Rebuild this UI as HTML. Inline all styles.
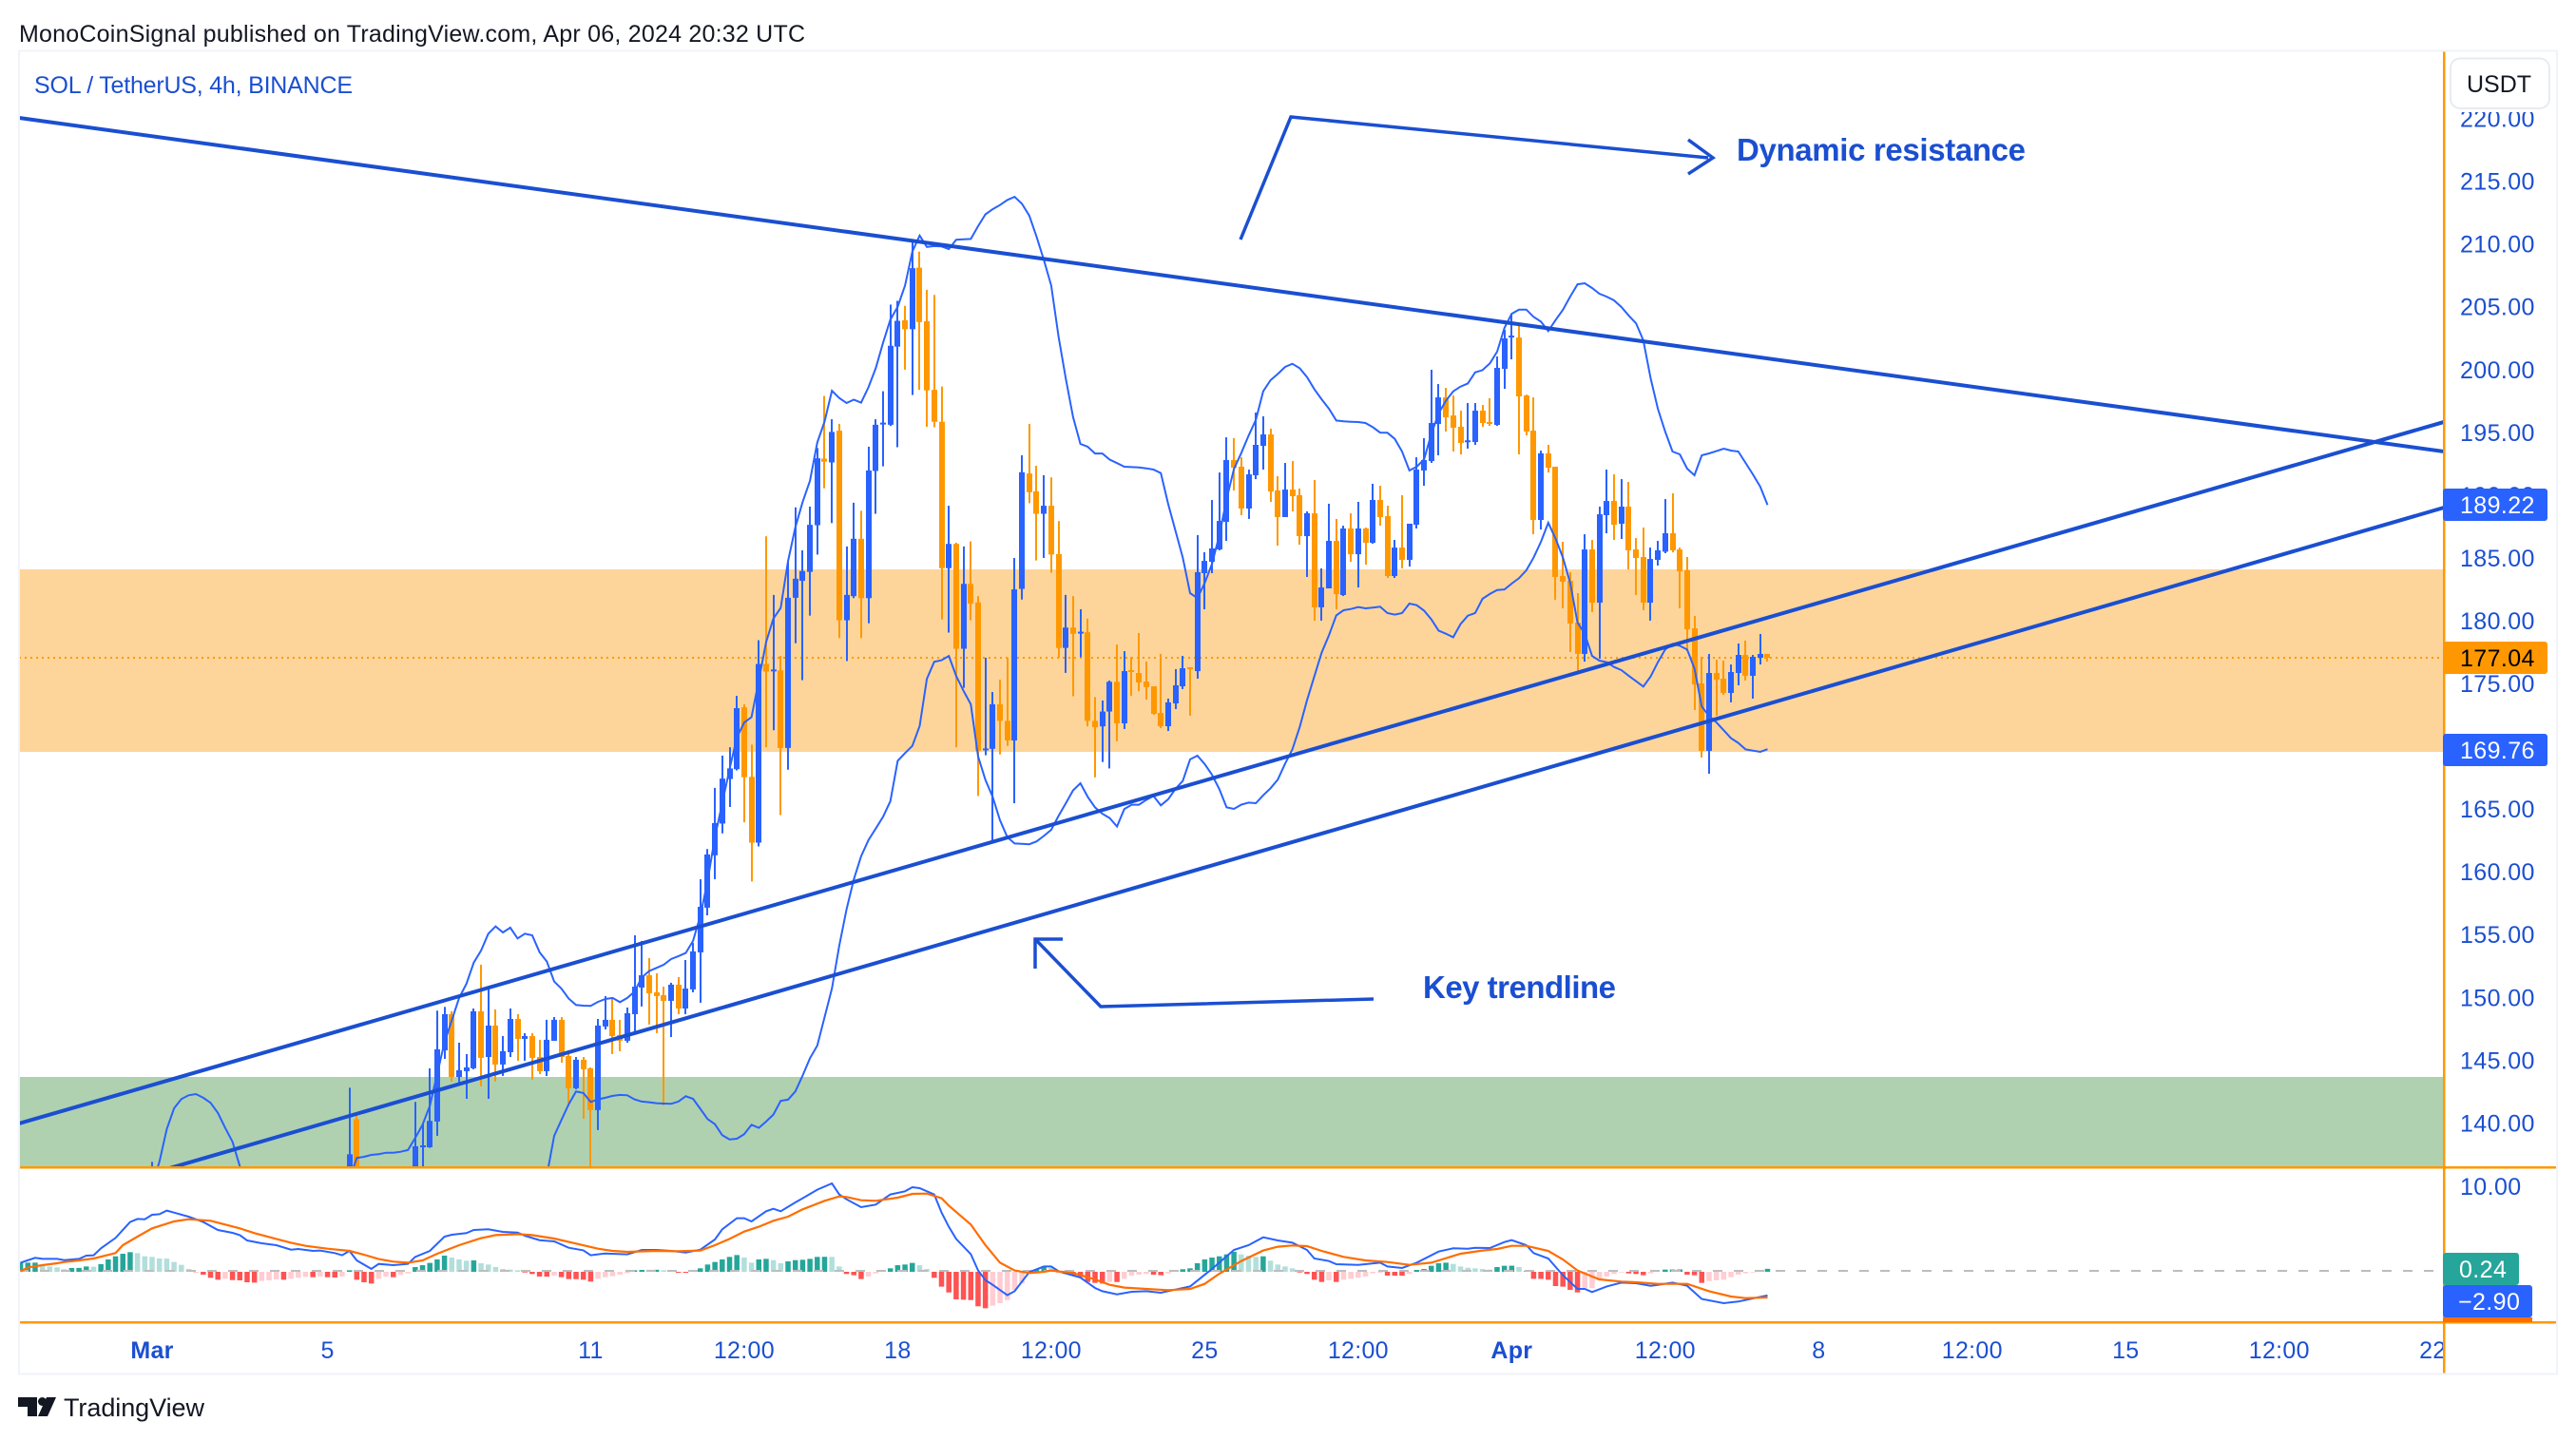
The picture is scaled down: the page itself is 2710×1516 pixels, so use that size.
<!DOCTYPE html>
<html lang="en">
<head>
<meta charset="utf-8">
<title>SOL / TetherUS 4h chart</title>
<style>
html,body{margin:0;padding:0;background:#fff;width:2710px;height:1516px;overflow:hidden}
svg{display:block}
text{font-family:"Liberation Sans",sans-serif}
</style>
</head>
<body>
<svg id="chart" xmlns="http://www.w3.org/2000/svg" width="2710" height="1516" viewBox="0 0 2710 1516">
  <defs>
    <clipPath id="mainClip"><rect x="20" y="55" width="2550" height="1172"/></clipPath>
    <clipPath id="macdClip"><rect x="20" y="1229" width="2550" height="161"/></clipPath>
    <clipPath id="timeClip"><rect x="20" y="1392" width="2550" height="54"/></clipPath>
  </defs>
  <rect x="0" y="0" width="2710" height="1516" fill="#ffffff"/>
  <text x="20" y="44" font-size="25" fill="#131722" textLength="827" lengthAdjust="spacing">MonoCoinSignal published on TradingView.com, Apr 06, 2024 20:32 UTC</text>

  <g clip-path="url(#mainClip)">
    <rect x="20" y="599" width="2550" height="192" fill="#fdd59a"/>
    <rect x="20" y="1133" width="2550" height="95" fill="#afd1b0"/>
    <g id="priceLine"></g>
    <g id="candles"></g>
    <g id="bands"></g>
    <g id="trends"></g>
  </g>

  <g>
    <polyline points="1305,252 1358,123 1797,166" fill="none" stroke="#1b4fd1" stroke-width="3.5"/>
    <polyline points="1776,147 1802,166 1776,183" fill="none" stroke="#1b4fd1" stroke-width="3.5"/>
    <text x="1827" y="169" font-size="33" font-weight="bold" fill="#1b4fd1" textLength="304" lengthAdjust="spacing">Dynamic resistance</text>
  </g>
  <g>
    <polyline points="1445,1051 1158,1059 1089,988" fill="none" stroke="#1b4fd1" stroke-width="3.5"/>
    <polyline points="1089,1019 1089,988 1118,988" fill="none" stroke="#1b4fd1" stroke-width="3.5"/>
    <text x="1497" y="1050" font-size="33" font-weight="bold" fill="#1b4fd1" textLength="203" lengthAdjust="spacing">Key trendline</text>
  </g>

  <text x="36" y="98" font-size="25" fill="#1b4fd1" textLength="335" lengthAdjust="spacing">SOL / TetherUS, 4h, BINANCE</text>

  <g clip-path="url(#macdClip)">
    <g id="histogram"></g>
    <line x1="20" y1="1337" x2="2560" y2="1337" stroke="#bdbdbd" stroke-width="2" stroke-dasharray="10 12"/>
    <g id="macdLines"></g>
  </g>

  <g id="timeAxis" clip-path="url(#timeClip)"></g>
  <g id="priceAxis"></g>

  <rect x="20" y="1227" width="2670" height="2.5" fill="#ff9800"/>
  <rect x="20" y="1390" width="2670" height="2.5" fill="#ff9800"/>
  <rect x="2570" y="54" width="2.5" height="1392" fill="#ff9800"/>

  <rect x="20" y="53.5" width="2670" height="1392" fill="none" stroke="#f0f3fa" stroke-width="2"/>

  <g>
    <rect x="2570" y="514" width="110" height="34" rx="3" fill="#2962ff"/>
    <text x="2588" y="540" font-size="25" letter-spacing="0.4" fill="#ffffff">189.22</text>
    <rect x="2570" y="675" width="110" height="34" rx="3" fill="#ff9800"/>
    <text x="2588" y="701" font-size="25" letter-spacing="0.4" fill="#000000">177.04</text>
    <rect x="2570" y="772" width="110" height="34" rx="3" fill="#2962ff"/>
    <text x="2588" y="798" font-size="25" letter-spacing="0.4" fill="#ffffff">169.76</text>
    <rect x="2570" y="1386" width="94" height="5" fill="#ff6d00"/>
    <rect x="2570" y="1318" width="80" height="34" rx="3" fill="#26a69a"/>
    <text x="2587" y="1344" font-size="25" letter-spacing="0.4" fill="#ffffff">0.24</text>
    <rect x="2570" y="1352" width="94" height="34" rx="3" fill="#2962ff"/>
    <text x="2586" y="1378" font-size="25" letter-spacing="0.4" fill="#ffffff">−2.90</text>
  </g>

  <rect x="2574" y="56" width="114" height="62" fill="#ffffff"/>
  <rect x="2578" y="61.5" width="104" height="52.5" rx="10" fill="#ffffff" stroke="#e9ebf3" stroke-width="2"/>
  <text x="2629" y="97" font-size="25" fill="#131722" text-anchor="middle">USDT</text>

  <g>
    <path d="M19 1470H39V1490H29V1480H19Z" fill="#131722"/>
    <circle cx="44.5" cy="1474.5" r="4.5" fill="#131722"/>
    <path d="M49 1470H59L50 1490H40Z" fill="#131722"/>
    <text x="67" y="1490" font-size="27" fill="#131722" textLength="148" lengthAdjust="spacing">TradingView</text>
  </g>
</svg>

<script>
// ---------- axis labels ----------
const priceTicks = [220,215,210,205,200,195,190,185,180,175,170,165,160,155,150,145,140];
const macdTicks = [10];
const timeTexts = ["Mar","5","11","12:00","18","12:00","25","12:00","Apr","12:00","8","12:00","15","12:00","22"];
const timeBars = [0,24,60,81,102,123,144,165,186,207,228,249,270,291,312];
const lastPrice = 177.04;

// ---------- candles ----------
const candleBars = [0,27,28,36,37,38,39,40,41,42,43,44,45,46,47,48,49,50,51,52,53,54,55,56,57,58,59,60,61,62,63,64,65,66,67,68,69,70,71,72,73,74,75,76,77,78,79,80,81,82,83,84,85,86,87,88,89,90,91,92,93,94,95,96,97,98,99,100,101,102,103,104,105,106,107,108,109,110,111,112,113,114,115,116,117,118,119,120,121,122,123,124,125,126,127,128,129,130,131,132,133,134,135,136,137,138,139,140,141,142,143,144,145,146,147,148,149,150,151,152,153,154,155,156,157,158,159,160,161,162,163,164,165,166,167,168,169,170,171,172,173,174,175,176,177,178,179,180,181,182,183,184,185,186,187,188,189,190,191,192,193,194,195,196,197,198,199,200,201,202,203,204,205,206,207,208,209,210,211,212,213,214,215,216,217,218,219,220,221];
const highs = [136.9,142.8,140.7,141.67,139.98,144.35,148.94,149.24,148.89,146.39,145.48,149.11,152.6,150.7,149.04,146.92,149.11,148.66,147.15,147.15,146.62,148.21,148.43,148.43,145.78,145.25,145.25,144.42,148.28,150.1,150.02,148.21,149.19,154.94,154.49,153.13,151.91,150.85,151.16,151.61,152.97,154.34,159.41,161.81,166.68,169.25,169.92,174.01,173.34,170.13,178.44,186.72,182.05,177.19,184.72,189.02,185.6,189.08,193.75,197.9,196.04,195.67,185.91,189.39,188.75,193.85,196.04,198.27,205.17,205.47,205.07,210.24,209.39,206.35,205.94,198.65,189.15,186.21,185.91,186.31,181.95,177.05,174.32,175.3,177.05,184.99,193.17,195.67,192.33,191.58,191.41,187.93,182.05,181.95,180.91,180.16,173.91,173.64,175.23,178.1,177.57,177.12,179.01,176.74,174.77,177.35,173.79,176.14,177.19,176.29,186.81,185.45,189.61,191.8,194.6,194.53,193.01,192.03,196.57,196.27,195.29,191.5,192.56,192.71,190.52,188.7,191.2,184.16,189.31,188.1,187.56,188.55,189.46,187.41,190.9,190.74,189.15,186.43,189.99,187.72,193.01,194.53,199.98,198.84,198.54,197.93,196.72,197.33,197.33,197.18,197.71,201.04,203.16,204.44,203.53,198,197.78,193.54,194,192.26,186.28,183.86,182.19,186.88,186.43,189.08,192.03,191.65,191.27,191.05,186.58,187.41,185.82,186.35,189.68,190.14,185.82,185.07,180.37,177.12,177.35,176.89,176.82,176.51,178.18,178.41,177.27,178.94,177.35];
const opens = [135,134,140.3,135.5,138.11,138.06,140.11,145.78,148.66,143.66,144.12,144.35,148.89,145.25,147.75,144.65,145.63,148.28,146.69,146.92,145.25,144.12,146.54,148.21,145.33,142.76,145.03,144.35,141.02,147.68,148.21,147,146.54,148.66,150.78,151.76,150.4,150.17,149.72,151.01,149.11,150.63,153.58,157.14,161.31,163.84,167.39,168.17,173.1,167.56,162.32,176.55,176.04,176.04,169.86,181.82,183.17,183.88,187.6,192.9,192.6,195.13,180.03,181.95,186.52,181.79,191.92,195.7,195.6,201.82,203.92,203.21,208.11,203.85,198.38,195.84,184.18,186.11,177.76,182.93,181.45,169.75,169.79,173.34,172.02,170.46,182.53,191.72,190.3,188.51,189.15,185.3,177.83,179.45,179.05,179.08,172.02,171.58,172.76,175.13,171.82,176.06,175.83,175.15,174.77,172.65,171.59,173.41,174.77,176.29,175.98,183.78,184.69,185.67,187.87,192.79,192.26,188.93,191.58,193.92,194.83,190.37,188.25,190.44,189.99,186.73,188.55,181.06,182.57,186.35,182.04,187.34,185.29,187.34,186.2,189.61,188.32,183.55,185.82,184.84,187.64,191.96,192.71,195.66,197.78,196.34,195.44,194.3,194.23,196.72,195.82,195.59,200.05,202.65,202.55,197.93,195.13,188.02,193.32,192.26,183.55,183.17,179.84,177.35,185.67,181.43,188.4,189.53,187.72,189.08,185.67,185.07,181.43,184.84,185.49,186.96,185.67,184.01,179.39,175,169.63,175.83,175.38,174.24,175.83,177.27,175.61,177.04,177.35];
const closes = [136,137.5,135,138.14,138.21,140.16,145.86,148.66,143.66,144.19,144.42,148.89,145.18,147.75,144.65,145.71,148.28,146.69,146.92,145.18,144.12,146.62,148.21,145.25,142.76,145.03,144.27,141.02,147.75,148.21,146.92,146.54,148.74,150.85,151.76,150.32,150.1,149.72,151.01,149.11,150.7,153.66,157.21,161.38,163.88,167.42,168.23,173.03,167.53,162.32,176.55,175.94,176.11,169.86,181.82,183.34,183.95,187.63,192.93,192.66,195.03,180.03,182.05,186.52,181.79,191.96,195.6,195.77,201.89,203.88,203.21,208.07,203.78,198.34,195.84,184.18,186.11,177.76,182.93,181.35,169.65,169.82,173.34,172.02,170.46,182.49,191.82,190.23,188.51,189.15,185.27,177.83,179.45,178.95,179.12,172.02,171.51,172.76,175.13,171.82,175.98,175.91,175.08,174.7,172.58,171.59,173.49,174.85,176.21,176.13,183.86,184.76,185.75,187.94,192.79,192.18,188.93,191.65,194,194.83,190.29,188.25,190.44,189.91,186.73,188.55,181.06,182.64,186.35,182.11,187.34,185.29,187.34,186.2,189.61,188.25,183.55,185.82,184.84,187.72,192.03,192.79,195.74,197.78,196.19,195.36,194.15,194.36,196.72,195.74,195.74,200.13,202.48,202.7,197.86,195.06,188.02,193.32,192.18,183.48,183.1,179.77,177.36,185.67,181.43,188.47,189.53,187.64,189.08,185.6,184.99,181.43,184.91,185.6,186.96,185.6,183.93,179.31,174.92,169.63,175.83,175.3,174.24,175.91,177.27,175.61,177.12,177.35,177.04];
const lows = [134,133,133,134,134.5,138.01,138.97,145.1,143.29,143.01,141.92,144.27,142.91,141.92,143.29,143.74,145.25,144.95,144.95,143.44,143.89,143.74,146.54,144.8,141.32,142.68,140.33,134,139.43,147.45,145.48,145.71,146.39,147.15,149.27,147.83,147.15,141.39,146.84,148.66,148.66,150.4,149.57,156.53,159.41,163.06,165.16,168.07,163.94,159.23,162.02,169.92,171.27,164.52,168.13,178.2,175.26,180.4,185.26,190.54,187.77,178.61,176.78,181.79,178.61,179.79,188.51,192.29,195.5,193.81,199.99,197.97,198.38,195.44,195.4,180.09,179.05,169.92,174.65,180.03,166.04,169.28,162.42,169.35,170.03,165.46,181.68,189.35,184.79,184.99,183.81,177.05,175.84,173.98,177.09,171.58,167.52,168.74,168.23,170.4,171.37,174.02,174.39,173.71,172.5,171.44,171.21,172.96,174.55,172.43,175.38,180.9,183.78,185.6,186.35,190.37,188.4,188.1,191.27,192.03,189.46,185.97,188.25,188.7,186.05,183.48,180,180,182.57,180.9,181.96,184.69,182.64,184.46,186.13,187.57,183.4,183.4,184.16,184.31,187.34,190.74,192.56,193.17,195.06,193.47,193.24,193.7,194,195.44,195.51,195.51,198.46,200.81,193.24,194.75,186.88,187.26,191.8,181.66,180.98,177.5,175.91,176.74,180.68,176.97,186.96,186.43,186.5,184.08,182.04,180.83,180,184.39,185.37,185.44,180.98,177.57,172.88,169.1,167.81,172.43,174.09,173.49,174.85,175.23,173.79,176.51,176.74];

// ---------- Bollinger bands ----------
const upperEarlyStart = 0;
const upperEarly = [135,136.9,139.5,141.16,141.9,142.2,142.3,142,141.6,140.8,139.6,138.5,136.55,134];
const upperStart = 27;
const upperVals = [135.5,137.2,137.3,137.45,137.51,137.63,137.63,137.7,137.84,138.8,139.85,141.37,143.89,146.41,148.18,149.95,151.08,152.77,153.73,155.07,155.65,155.17,155.55,154.69,155.07,154.94,153.6,152.85,151.26,150.7,149.9,149.39,149.34,149.32,149.64,149.87,149.95,149.62,149.95,150.45,151.59,152.09,152.34,152.6,153.05,153.28,153.53,154.49,156.51,159.28,162.76,165.46,168.17,170.7,171.88,172.32,175.26,178.3,180.16,181.01,184.72,187.43,189.45,191.14,194.19,195.87,198.31,197.73,197.33,197.6,197.36,198.58,200.1,202.13,203.98,205,206.69,209.39,210.67,209.76,209.83,209.8,209.59,210.34,210.37,210.4,211.42,212.36,212.77,213.1,213.5,213.76,213.2,212.26,210.57,208.72,206.69,202.63,199.25,196.21,194.08,193.85,193.31,193.31,192.83,192.55,192.26,192.23,192.21,192.13,192.03,191.75,189.31,187.16,185.02,182.19,181.79,183,184.51,186.78,189.68,192.08,193.34,194.73,195.99,198.26,199.15,199.65,200.21,200.46,200.1,199.4,198.44,197.63,196.88,195.94,195.87,195.84,195.82,195.74,195.41,194.98,194.96,194.48,193.47,191.96,192.26,192.84,194.86,196.5,197.51,198.26,198.64,198.89,199.78,199.95,200.48,201.42,203.31,204.44,204.77,204.77,204.19,203.81,203.06,203.94,204.75,205.81,206.79,206.87,206.49,206.04,205.8,205.51,204.98,204.3,203.69,202.33,199.3,196.88,195.06,193.47,193.24,192.11,191.58,193.17,193.32,193.5,193.7,193.55,193.47,192.56,191.65,190.67,189.22];
const lowerStart = 53;
const lowerVals = [133,135.82,138.97,140.23,141.49,142.5,142.38,141.67,141.87,142,142.15,142.23,142.2,141.87,141.7,141.65,141.57,141.54,141.52,141.7,142.12,141.92,141.12,140.31,139.9,139.02,138.69,138.74,139.1,139.85,139.6,140.11,140.66,141.75,141.85,142.5,143.77,145.15,146.16,148.43,150.7,154.11,157.01,159.38,161.24,162.52,163.44,164.38,165.63,168.84,169.45,170.03,171.61,175.37,176.72,176.85,177.19,175.6,174.42,173.34,169.18,167.32,165.97,164.11,162.76,162.25,162.22,162.19,162.42,162.86,163.34,164.45,165.46,166.48,167.05,165.97,165.13,164.62,164.28,163.61,165,165.34,165.34,165.72,166.04,165.29,165.77,166.6,167.23,168.95,169.25,168.57,167.73,166.6,165.13,165.01,165.34,165.51,165.46,166.09,166.65,167.35,168.62,169.75,171.52,173.66,175.56,177.45,178.84,180.42,180.83,180.93,181.08,180.98,181.03,181.11,180.6,180.48,180.6,181.36,181.23,180.8,180.1,179.21,178.96,178.68,179.72,180.4,180.6,181.74,182.12,182.44,182.49,182.95,183.38,184.01,185.02,186.28,187.79,186.53,185.02,183,179.84,178.96,177.19,176.82,176.69,176.31,176.06,175.61,175.18,174.75,175.55,176.69,177.7,178.15,178,177.7,176.19,173.16,172.4,171.9,171.27,170.64,170.26,169.75,169.65,169.55,169.76];

// ---------- drawn trend lines (bar index, price) ----------
const trendEndBars = [-18.2,313.5];
const resistancePrices = [220.04,193.47];
const upperTrendPrices = [139.95,195.82];
const lowerTrendPrices = [132.91,189];

// ---------- MACD ----------
const histStart = -18;
const histVals = [.97,.97,.97,.6,.52,.41,.19,.34,.35,.52,.49,.79,1.35,1.72,2.02,2.21,2.1,1.72,1.65,1.46,1.45,1.05,.71,.22,-.15,-.45,-.82,-1.05,-.94,-1.09,-1.12,-1.35,-1.39,-1.2,-1.12,-1.01,-1.05,-.94,-.82,-.71,-.75,-.67,-.75,-.79,-.67,.07,-1.05,-1.35,-1.5,-.94,-.67,-.75,-.49,-.3,.45,.67,.94,1.35,1.8,1.57,1.35,1.2,1.24,.9,.75,.45,.22,.15,.07,-.19,-.37,-.67,-.68,-.56,-.75,-.97,-.98,-1.05,-1.27,-.94,-.75,-.64,-.45,-.26,.07,.11,.12,.13,.07,.1,-.22,-.23,-.07,.3,.75,1.05,1.35,1.65,1.87,1.57,.97,1.35,1.42,1.27,.9,1.12,1.27,1.31,1.42,1.65,1.66,1.65,.52,-.37,-.52,-.97,-.67,-.3,-.07,.3,.67,.75,.94,.67,.22,-.82,-1.87,-2.55,-3.37,-3.41,-3.45,-4.19,-4.42,-4.12,-3.82,-3.45,-2.25,-1.5,.07,.19,.52,.37,-.19,-.37,-.56,-.75,-1.31,-1.42,-1.5,-1.31,-1.32,-.94,-.56,-.45,-.37,-.45,-.52,-.3,.11,.19,.3,.9,1.35,1.57,1.72,1.95,2.25,1.95,1.8,1.65,1.72,1.2,.75,.52,.3,-.19,-.37,-1.05,-1.31,-1.12,-1.31,-1.05,-.94,-.82,-.67,-.3,-.22,-.56,-.57,-.58,-.37,.11,.22,.6,.9,.97,.82,.52,.37,.3,.22,.15,.45,.6,.61,.45,-.02,-.94,-.95,-1.05,-1.8,-1.87,-2.25,-2.55,-2.06,-2.05,-1.12,-.67,-.37,-.19,-.3,-.37,-.52,-.3,-.11,.15,.16,.17,-.45,-.52,-1.42,-1.2,-1.12,-1.05,-.75,-.45,-.3,-.19,.11,.24];
const macdBars = [-18,-16,-15,-13,-12,-10,-9,-8,-7,-5,-3,-2,-1,0,1,2,3,5,7,9,11,12,13,15,17,19,20,22,23,25,26,27,28,30,31,33,35,36,38,40,41,43,44,46,48,50,51,53,55,57,59,60,62,65,67,69,71,73,75,77,78,80,81,82,84,85,86,88,89,91,93,94,95,97,99,101,103,104,105,107,108,109,110,112,113,114,115,117,118,120,122,123,124,127,129,130,132,134,136,138,140,142,145,148,150,152,154,156,158,159,161,162,165,168,169,171,173,176,178,180,181,183,185,186,188,189,191,193,195,196,197,199,201,203,205,206,208,210,212,215,217,219,221];
const macdVals = [.97,1.54,1.42,1.42,1.27,1.42,1.8,1.84,2.66,3.89,5.77,6.14,6.1,6.63,6.7,7.12,6.89,6.4,5.77,4.83,4.49,4.23,3.6,3.26,3.03,2.51,2.58,2.36,2.4,2.1,1.84,2.36,1.24,.22,.82,.67,.82,1.65,2.36,4.04,4.27,4.46,4.83,4.91,4.61,4.53,4.16,3.63,3.48,2.73,2.43,1.84,2.06,1.95,2.47,2.47,2.36,2.17,2.51,3.71,4.91,6.22,6.22,5.84,7.04,7.34,7.04,8.09,8.58,9.59,10.34,9.03,8.46,7.53,7.83,9.03,9.4,9.89,9.77,9.03,6.9,5.2,3.78,1.98,.04,-1.09,-1.65,-2.88,-2.4,-.15,.52,.52,-.04,-.79,-2.02,-2.4,-2.77,-2.47,-2.4,-2.58,-2.21,-1.84,.22,2.47,3.03,3.97,3.6,3.33,2.47,1.46,1.16,.79,.71,.97,.52,.34,.97,2.28,2.66,2.62,2.73,2.7,3.41,3.63,3.03,2.1,1.46,-.52,-2.13,-2.13,-2.51,-1.84,-1.39,-1.46,-1.76,-1.65,-1.39,-1.76,-3.33,-3.82,-3.63,-3.26,-2.9];
const signalBars = [-18,-17,-15,-13,-12,-10,-8,-5,-4,-2,0,3,5,8,10,12,14,17,19,21,24,27,29,31,33,35,37,39,42,45,47,50,52,55,58,61,63,65,69,72,75,77,79,81,83,85,87,89,92,94,95,97,99,102,104,106,108,109,112,114,116,118,120,122,123,126,129,131,133,136,139,142,144,146,149,152,154,156,158,160,163,166,169,172,175,179,182,184,186,188,191,193,195,198,201,203,206,210,213,216,218,221];
const signalVals = [-.07,.41,.67,.9,1.05,1.24,1.46,2.1,3.03,4.04,5.02,5.84,6.1,5.92,5.47,5.02,4.46,3.78,3.33,2.96,2.62,2.36,1.91,1.39,1.09,.97,1.24,2.02,3.03,3.86,4.23,4.34,4.23,3.82,3.22,2.62,2.36,2.25,2.36,2.32,2.4,3.03,3.78,4.64,5.21,5.92,6.4,7.27,8.28,8.8,8.73,8.35,8.28,8.65,9.1,9.14,8.58,7.71,5.47,3.03,.97,.04,-.26,-.11,.04,-.26,-1.01,-1.65,-1.98,-2.13,-2.28,-2.13,-1.54,-.34,1.16,2.4,2.85,3,2.92,2.36,1.65,1.24,1.05,.71,.97,2.02,2.4,2.58,2.96,2.96,2.36,1.35,.04,-1.01,-1.27,-1.35,-1.54,-1.54,-2.4,-3.03,-3.22,-3.15];

// ---------- axis functions ----------
const SVGNS = "http://www.w3.org/2000/svg";
function xAt(bar){ return 160 + 7.69 * bar; }
function yAt(price){ return 719 - (price - 175) * 13.21; }
function yMacd(v){ return 1337 - v * 8.9; }
function make(tag, parent, attrs){
  const el = document.createElementNS(SVGNS, tag);
  for (const k in attrs) el.setAttribute(k, attrs[k]);
  parent.appendChild(el);
  return el;
}
function pointsFrom(bars, vals, yFn){
  return bars.map(function(b, i){ return xAt(b).toFixed(1) + "," + yFn(vals[i]).toFixed(1); }).join(" ");
}
function seq(start, n){
  const out = [];
  for (let i = 0; i < n; i++) out.push(start + i);
  return out;
}

// last price line
const priceLineGroup = document.getElementById("priceLine");
const lastLine = make("line", priceLineGroup, {x1:20, x2:2566, y1:yAt(lastPrice), y2:yAt(lastPrice), stroke:"#ff9800", "stroke-width":2, "stroke-dasharray":"2 4"});



// candles
const candleGroup = document.getElementById("candles");
candleBars.forEach(function(bar, i){
  const up = closes[i] >= opens[i];
  const color = up ? "#2962ff" : "#ff9800";
  const cx = Math.round(xAt(bar));
  const wick = make("rect", candleGroup, {x:cx - 1, y:yAt(highs[i]), width:2, height:Math.max(1, yAt(lows[i]) - yAt(highs[i])), fill:color});
  
  
  const top = yAt(Math.max(opens[i], closes[i]));
  const bot = yAt(Math.min(opens[i], closes[i]));
  const body = make("rect", candleGroup, {x:cx - 3, y:top, width:6, height:Math.max(2, bot - top), fill:color});
  
  
});

// Bollinger bands
const bandGroup = document.getElementById("bands");
const upperBars = seq(upperEarlyStart, upperEarly.length).concat(seq(upperStart, upperVals.length));
const upperAll = upperEarly.concat(upperVals);
const upperLine = make("polyline", bandGroup, {points:pointsFrom(upperBars, upperAll, yAt), fill:"none", stroke:"#2962ff", "stroke-width":2});


const lowerLine = make("polyline", bandGroup, {points:pointsFrom(seq(lowerStart, lowerVals.length), lowerVals, yAt), fill:"none", stroke:"#2962ff", "stroke-width":2});



// trend lines
const trendGroup = document.getElementById("trends");
const resistanceLine = make("polyline", trendGroup, {points:pointsFrom(trendEndBars, resistancePrices, yAt), fill:"none", stroke:"#1b4fd1", "stroke-width":4});


const upperTrend = make("polyline", trendGroup, {points:pointsFrom(trendEndBars, upperTrendPrices, yAt), fill:"none", stroke:"#1b4fd1", "stroke-width":4});


const lowerTrend = make("polyline", trendGroup, {points:pointsFrom(trendEndBars, lowerTrendPrices, yAt), fill:"none", stroke:"#1b4fd1", "stroke-width":4});



// MACD histogram
const histGroup = document.getElementById("histogram");
histVals.forEach(function(v, i){
  const prev = i > 0 ? histVals[i - 1] : v;
  let color;
  if (v >= 0) color = v >= prev ? "#26a69a" : "#b2dfdb";
  else color = v <= prev ? "#ff5252" : "#ffcdd2";
  const cx = xAt(histStart + i);
  const y0 = yMacd(0) + 1;
  const y1 = yMacd(v);
  const bar = make("rect", histGroup, {x:cx - 2.75, y:Math.min(y0, y1), width:5.5, height:Math.abs(y1 - y0), fill:color});
  
  
});

// MACD lines
const macdGroup = document.getElementById("macdLines");
const macdLine = make("polyline", macdGroup, {points:pointsFrom(macdBars, macdVals, yMacd), fill:"none", stroke:"#2962ff", "stroke-width":2});


const signalLine = make("polyline", macdGroup, {points:pointsFrom(signalBars, signalVals, yMacd), fill:"none", stroke:"#ff6d00", "stroke-width":2.2});



// price axis labels
const priceAxis = document.getElementById("priceAxis");
priceTicks.forEach(function(p){
  const t = make("text", priceAxis, {x:2588, y:yAt(p) + 9, "font-size":25, "letter-spacing":0.4, fill:"#1b4fd1"});
  t.textContent = p.toFixed(2);
  
  
});
macdTicks.forEach(function(v){
  const t = make("text", priceAxis, {x:2588, y:yMacd(v) + 9, "font-size":25, "letter-spacing":0.4, fill:"#1b4fd1"});
  t.textContent = v.toFixed(2);
  
  
});

// time axis labels
const timeAxis = document.getElementById("timeAxis");
timeTexts.forEach(function(label, i){
  const bold = label === "Mar" || label === "Apr";
  const t = make("text", timeAxis, {x:xAt(timeBars[i]), y:1429, "font-size":25, "letter-spacing":0.3, "text-anchor":"middle", fill:"#1b4fd1", "font-weight":bold ? "bold" : "normal"});
  t.textContent = label;
  
  
});
</script>
</body>
</html>
